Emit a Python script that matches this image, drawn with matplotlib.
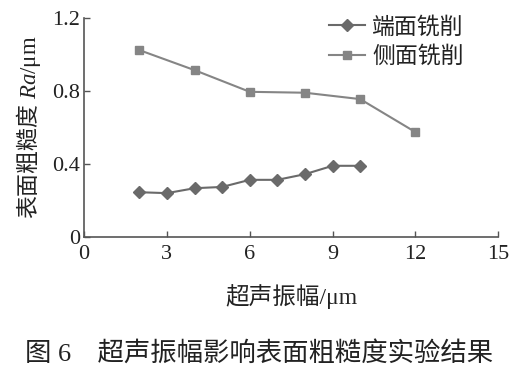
import matplotlib
matplotlib.use("Agg")
import matplotlib.pyplot as plt

# Data
x_end = [2, 3, 4, 5, 6, 7, 8, 9, 10]
ra_end = [0.245, 0.240, 0.267, 0.274, 0.313, 0.313, 0.344, 0.390, 0.390]
x_side = [2, 4, 6, 8, 10, 12]
ra_side = [1.025, 0.915, 0.796, 0.791, 0.756, 0.575]
series_labels = ["端面铣削", "侧面铣削"]
xticks = [0, 3, 6, 9, 12, 15]
yticks = [0, 0.4, 0.8, 1.2]
ytick_labels = ["0", "0.4", "0.8", "1.2"]
xlabel = "超声振幅/μm"
ylabel = r"$\mathrm{表面粗糙度}\ \mathit{Ra}$/μm"
caption = "图 6　超声振幅影响表面粗糙度实验结果"

fam = ["Liberation Serif", "Noto Sans CJK SC", "DejaVu Sans"]
plt.rcParams["font.family"] = fam
plt.rcParams["mathtext.fontset"] = "custom"
plt.rcParams["mathtext.it"] = "Liberation Serif:italic"
plt.rcParams["mathtext.rm"] = "Noto Sans CJK SC"

fig = plt.figure(figsize=(5.19, 3.79), dpi=100)
ax = fig.add_axes([0.162, 0.375, 0.798, 0.577])

ax.plot(x_end, ra_end, marker="D", ms=6, color="#6a6a6a", lw=1.5, label=series_labels[0])
ax.plot(x_side, ra_side, marker="s", ms=6, color="#858585", lw=1.5, label=series_labels[1])

ax.set_xlim(0, 15)
ax.set_ylim(0, 1.2)
ax.set_xticks(xticks)
ax.set_yticks(yticks)
ax.set_yticklabels(ytick_labels)
ax.tick_params(direction="in", length=4, width=1, color="#555555", labelsize=16, labelcolor="#222222")
ax.tick_params(axis="x", pad=6)
ax.tick_params(axis="y", pad=3)
for s in ["top", "right"]:
    ax.spines[s].set_visible(False)
for s in ["left", "bottom"]:
    ax.spines[s].set_color("#555555")
    ax.spines[s].set_linewidth(1.2)

ax.set_xlabel(xlabel, fontsize=17, color="#222222", labelpad=14)
ax.set_ylabel(ylabel, fontsize=16.5, color="#222222")
ax.yaxis.set_label_coords(-0.1, 0.5)

leg = ax.legend(loc="upper right", bbox_to_anchor=(0.95, 1.07), frameon=False, fontsize=16.5,
                handlelength=1.6, handletextpad=0.3, labelspacing=0.35, borderaxespad=0.2)
for t in leg.get_texts():
    t.set_color("#222222")

fig.text(0.5, 0.068, caption, ha="center", va="center", fontsize=19, color="#222222")

fig.savefig("out.png", dpi=100)
